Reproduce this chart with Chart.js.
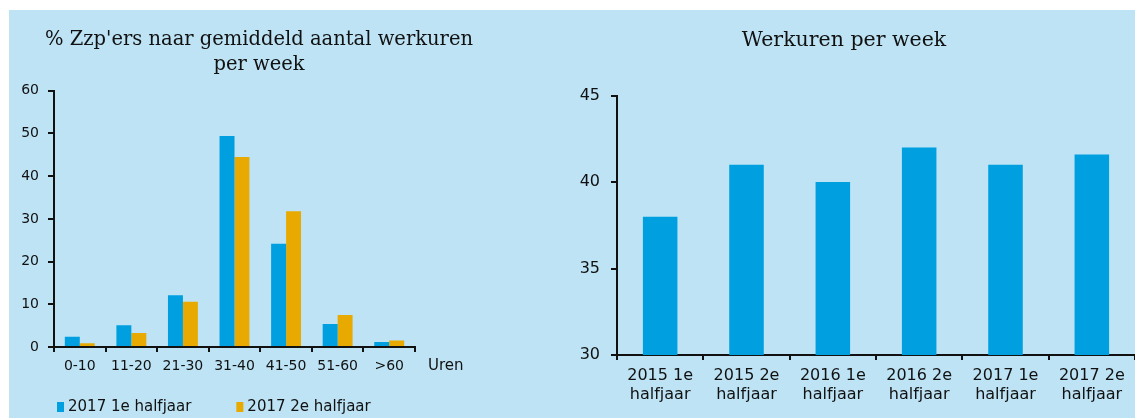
<!DOCTYPE html>
<html>
<head>
<meta charset="utf-8">
<script src="https://cdn.jsdelivr.net/npm/chart.js@4/dist/chart.umd.min.js"></script>
<style>
  html, body { margin: 0; padding: 0; background: #fff; }
  #wrap { position: absolute; left: 9px; top: 10px; width: 1126px; height: 408px; background: #bde3f5; }
  .box { position: absolute; top: 0; height: 408px; }
</style>
</head>
<body>
<div id="wrap">
  <div class="box" style="left:0;width:500px"><canvas id="left"></canvas></div>
  <div class="box" style="left:544px;width:582px"><canvas id="right"></canvas></div>
</div>
<script>
// data, left chart
const urenLabels = ['0-10', '11-20', '21-30', '31-40', '41-50', '51-60', '>60'];
const half1 = [2.4, 5.1, 12.1, 49.4, 24.2, 5.4, 1.2];
const half2 = [0.9, 3.3, 10.6, 44.5, 31.8, 7.5, 1.5];
const seriesNames = ['2017 1e halfjaar', '2017 2e halfjaar'];

// data, right chart
const periodLabels = [
  ['2015 1e', 'halfjaar'], ['2015 2e', 'halfjaar'], ['2016 1e', 'halfjaar'],
  ['2016 2e', 'halfjaar'], ['2017 1e', 'halfjaar'], ['2017 2e', 'halfjaar'],
];
const werkuren = [38.0, 41.0, 40.0, 42.0, 41.0, 41.6];

const BLUE = '#009fe0';
const ORANGE = '#e8aa00';
const INK = '#111';
const SANS = '"DejaVu Sans", sans-serif';
const SERIF = '"DejaVu Serif", serif';

Chart.defaults.color = INK;
Chart.defaults.animation = false;

const axisBits = (tickLen) => ({
  grid: { display: true, drawOnChartArea: false, drawTicks: true, tickLength: tickLen, color: INK, lineWidth: 2 },
  border: { display: true, color: INK, width: 2 },
});

// legend + "Uren" label drawn under the left chart
const leftExtras = {
  id: 'leftExtras',
  afterDraw(chart) {
    const ctx = chart.ctx;
    const area = chart.chartArea;
    ctx.save();
    ctx.fillStyle = INK;
    ctx.font = '15px ' + SANS;
    ctx.textBaseline = 'middle';
    ctx.fillText('Uren', area.right + 13, area.bottom + 19);

    let x = area.left + 3;
    const y = chart.height - 11;
    chart.data.datasets.forEach((ds) => {
      ctx.fillStyle = ds.backgroundColor;
      ctx.fillRect(x, y - 5, 7, 10);
      ctx.fillStyle = INK;
      ctx.fillText(ds.label, x + 11, y);
      x += 11 + ctx.measureText(ds.label).width + 45;
    });
    ctx.restore();
  },
};

new Chart(document.getElementById('left'), {
  type: 'bar',
  data: {
    labels: urenLabels,
    datasets: [
      { label: seriesNames[0], data: half1, backgroundColor: BLUE },
      { label: seriesNames[1], data: half2, backgroundColor: ORANGE },
    ],
  },
  options: {
    responsive: true,
    maintainAspectRatio: false,
    layout: { padding: { left: 0, right: 0, top: 0, bottom: 41 } },
    datasets: { bar: { barPercentage: 1, categoryPercentage: 0.58 } },
    plugins: {
      legend: { display: false },
      tooltip: { enabled: false },
      title: {
        display: true,
        text: ["% Zzp'ers naar gemiddeld aantal werkuren", 'per week'],
        color: INK,
        font: { family: SERIF, size: 19.5, weight: 'normal', lineHeight: 1.25 },
        padding: { top: 18, bottom: 14 },
      },
    },
    scales: {
      x: {
        ...axisBits(5),
        ticks: { color: INK, font: { family: SANS, size: 14 }, padding: 6, maxRotation: 0 },
        afterFit: (s) => { s.height = 30; },
      },
      y: {
        ...axisBits(6),
        min: 0,
        max: 60,
        ticks: { stepSize: 10, color: INK, font: { family: SANS, size: 14 }, padding: 9 },
        afterFit: (s) => { s.width = 45; },
      },
      // empty right axis only keeps room for the "Uren" label
      spacer: {
        position: 'right',
        grid: { display: false },
        border: { display: false },
        ticks: { display: false },
        afterFit: (s) => { s.width = 94; },
      },
    },
  },
  plugins: [leftExtras],
});

new Chart(document.getElementById('right'), {
  type: 'bar',
  data: {
    labels: periodLabels,
    datasets: [
      { label: 'Werkuren per week', data: werkuren, backgroundColor: BLUE },
    ],
  },
  options: {
    responsive: true,
    maintainAspectRatio: false,
    layout: { padding: 0 },
    datasets: { bar: { barPercentage: 0.4, categoryPercentage: 1 } },
    plugins: {
      legend: { display: false },
      tooltip: { enabled: false },
      title: {
        display: true,
        text: 'Werkuren per week',
        color: INK,
        font: { family: SERIF, size: 20.5, weight: 'normal', lineHeight: 1.2 },
        padding: { top: 18, bottom: 43 },
      },
    },
    scales: {
      x: {
        ...axisBits(5),
        ticks: { color: INK, font: { family: SANS, size: 16, lineHeight: 1.2 }, padding: 6, maxRotation: 0 },
        afterFit: (s) => { s.height = 63; },
      },
      y: {
        ...axisBits(6),
        min: 30,
        max: 45,
        ticks: { stepSize: 5, color: INK, font: { family: SANS, size: 16 }, padding: 11 },
        afterFit: (s) => { s.width = 64; },
      },
    },
  },
});
</script>
</body>
</html>
